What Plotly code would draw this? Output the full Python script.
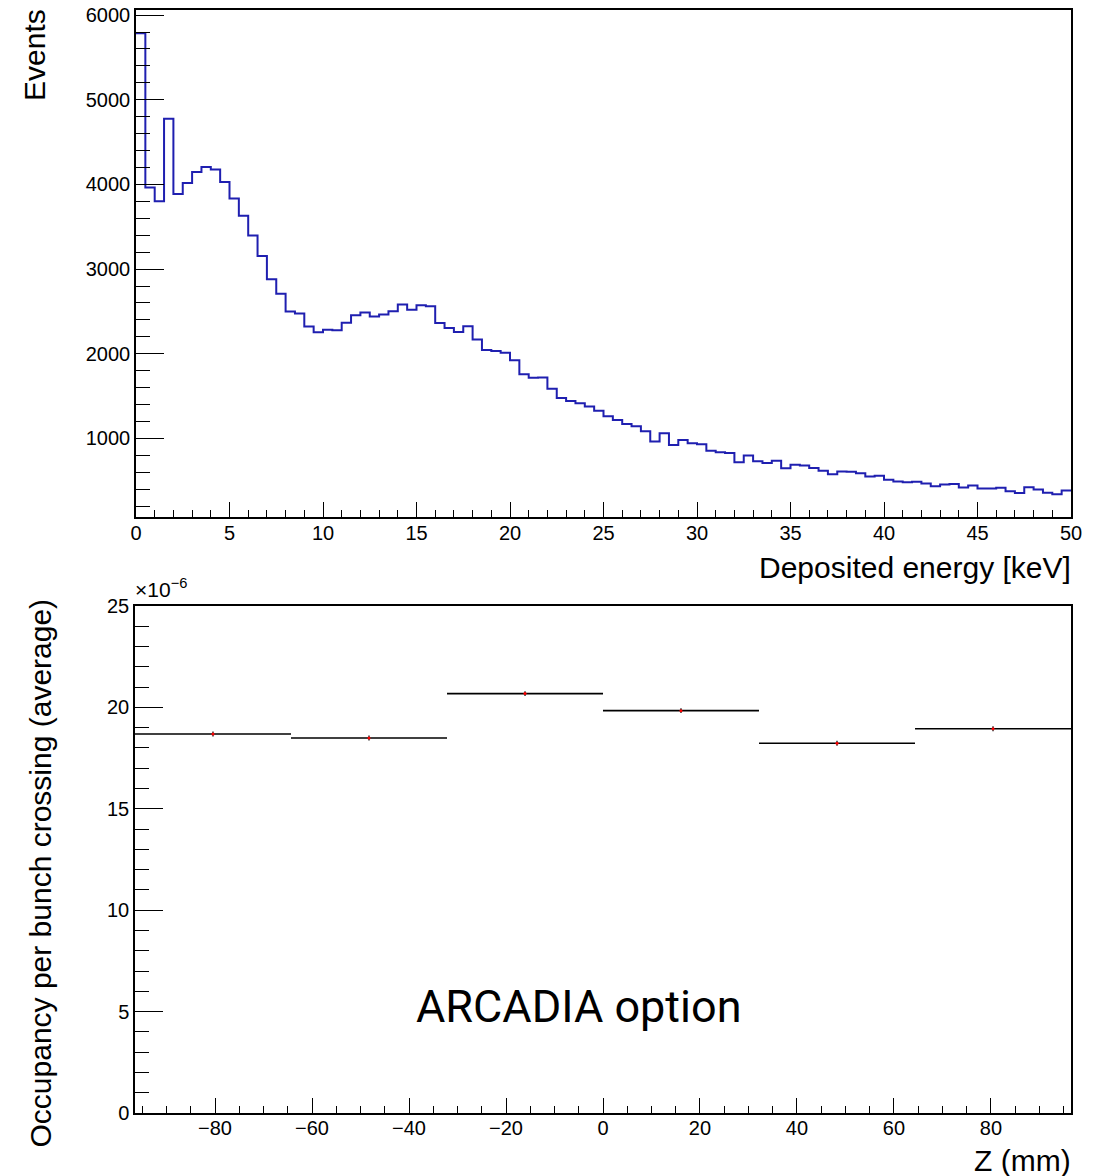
import plotly.graph_objects as go

# ---------------- data ----------------
energy_edges_lo = [i * 0.5 for i in range(100)]  # keV, bin low edges (0.5 keV bins)
events = [5785, 3965, 3800, 4775, 3887, 4017, 4146, 4205, 4177, 4028,
          3835, 3631, 3396, 3156, 2881, 2708, 2500, 2476, 2322, 2254,
          2283, 2279, 2366, 2456, 2488, 2441, 2464, 2503, 2582, 2519,
          2574, 2562, 2362, 2303, 2256, 2326, 2169, 2043, 2032, 2012,
          1922, 1758, 1716, 1720, 1588, 1477, 1442, 1415, 1376, 1328,
          1262, 1218, 1171, 1144, 1085, 963, 1061, 923, 982, 943,
          931, 853, 837, 829, 719, 798, 731, 711, 735, 648,
          690, 680, 652, 617, 578, 609, 605, 590, 550, 558,
          511, 491, 483, 487, 468, 436, 456, 463, 421, 444,
          409, 409, 417, 377, 354, 424, 397, 358, 342, 385]
energy_max = 50.0

z_centers = [-80.42, -48.25, -16.08, 16.08, 48.25, 80.42]  # mm
z_halfwidth = [16.083] * 6
occupancy = [18.69e-6, 18.49e-6, 20.68e-6, 19.84e-6, 18.23e-6, 18.95e-6]
occupancy_err = [0.12e-6] * 6
scale = 1e-6

FONT = "Liberation Sans, Arial, Helvetica, sans-serif"
W, H = 1094, 1176

def px_x(p):
    return p / W

def px_y(p):
    return 1 - p / H

fig = go.Figure()

# top histogram (step line)
hx = list(energy_edges_lo) + [energy_max]
hy = list(events) + [events[-1]]
fig.add_trace(go.Scatter(x=hx, y=hy, mode="lines", line=dict(color="#1f1fb0", width=2, shape="hv"),
                         xaxis="x", yaxis="y", showlegend=False, hoverinfo="skip"))

# bottom: per-bin markers with horizontal extents
occ_scaled = [v / scale for v in occupancy]
err_scaled = [e / scale for e in occupancy_err]
fig.add_trace(go.Scatter(x=z_centers, y=occ_scaled, mode="markers",
                         marker=dict(color="red", size=3),
                         error_x=dict(type="data", array=z_halfwidth, color="black", thickness=1.6, width=0),
                         error_y=dict(type="data", array=err_scaled, color="black", thickness=1.2, width=0),
                         xaxis="x2", yaxis="y2", showlegend=False))

axis_common = dict(showline=True, linecolor="black", linewidth=1.5, mirror=True, automargin=False,
                   showgrid=False, zeroline=False, ticks="inside", tickcolor="black",
                   tickfont=dict(family=FONT, size=20, color="black"))

fig.update_layout(
    template="none",
    width=W, height=H, autosize=False,
    margin=dict(l=0, r=0, t=0, b=0, pad=0),
    paper_bgcolor="white", plot_bgcolor="white",
    font=dict(family=FONT, color="black"),
    xaxis=dict(domain=[px_x(136), px_x(1071)], anchor="y", range=[0, 50],
               tick0=0, dtick=5, ticklen=15, tickwidth=1.3, ticklabelstandoff=-3,
               minor=dict(dtick=1, ticklen=7.5, ticks="inside", tickcolor="black", tickwidth=1.2),
               **axis_common),
    yaxis=dict(domain=[px_y(517), px_y(10)], anchor="x", range=[72, 6060],
               tick0=0, dtick=1000, ticklen=28, tickwidth=1.3,
               minor=dict(dtick=200, ticklen=14, ticks="inside", tickcolor="black", tickwidth=1.2),
               **axis_common),
    xaxis2=dict(domain=[px_x(135), px_x(1071)], anchor="y2", range=[-96.5, 96.5],
                tick0=0, dtick=20, ticklen=15, tickwidth=1.3, ticklabelstandoff=-4,
                minor=dict(dtick=5, ticklen=7.5, ticks="inside", tickcolor="black", tickwidth=1.2),
                **axis_common),
    yaxis2=dict(domain=[px_y(1113), px_y(606)], anchor="x2", range=[0, 25],
                tick0=0, dtick=5, ticklen=28, tickwidth=1.3,
                minor=dict(dtick=1, ticklen=14, ticks="inside", tickcolor="black", tickwidth=1.2),
                **axis_common),
)

ann = []
ann.append(dict(text="Events", x=px_x(35), y=px_y(7), xref="paper", yref="paper",
                xanchor="center", yanchor="top", textangle=-90, showarrow=False,
                font=dict(family=FONT, size=30, color="black")))
ann.append(dict(text="Deposited energy [keV]", x=px_x(1073), y=px_y(567), xref="paper", yref="paper",
                xanchor="right", yanchor="middle", showarrow=False,
                font=dict(family=FONT, size=30, color="black")))
ann.append(dict(text="Occupancy per bunch crossing (average)", x=px_x(40), y=px_y(597), xref="paper", yref="paper",
                xanchor="center", yanchor="top", textangle=-90, showarrow=False,
                font=dict(family=FONT, size=30, color="black")))
ann.append(dict(text="Z (mm)", x=px_x(1073), y=px_y(1160), xref="paper", yref="paper",
                xanchor="right", yanchor="middle", showarrow=False,
                font=dict(family=FONT, size=30, color="black")))
ann.append(dict(text="×10<sup>−6</sup>", x=px_x(133), y=px_y(603), xref="paper", yref="paper",
                xanchor="left", yanchor="bottom", showarrow=False,
                font=dict(family=FONT, size=21, color="black")))
ann.append(dict(text="ARCADIA option", x=px_x(579), y=px_y(1006), xref="paper", yref="paper",
                xanchor="center", yanchor="middle", showarrow=False,
                font=dict(family="Roboto, Inter, sans-serif", size=45, color="black")))
fig.update_layout(annotations=ann)

fig.write_html("out.html")
